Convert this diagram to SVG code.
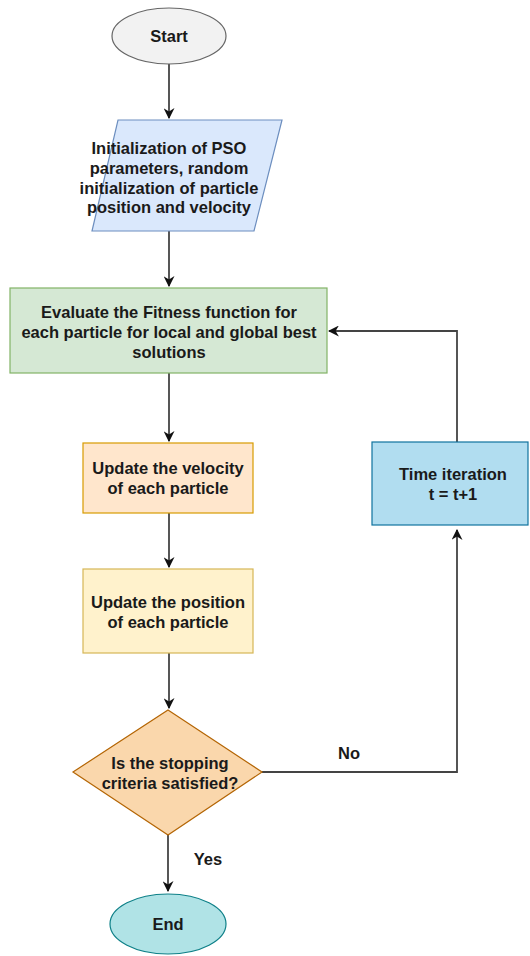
<svg xmlns="http://www.w3.org/2000/svg" width="530" height="956" viewBox="0 0 530 956">
<defs>
<marker id="arr" viewBox="0 0 10 10" refX="9" refY="5" markerWidth="11" markerHeight="11" markerUnits="userSpaceOnUse" orient="auto">
<path d="M0,0 L10,5 L0,10 L3,5 Z" fill="#111"/>
</marker>
<style>
text{font-family:"Liberation Sans",Arial,sans-serif;font-size:16.5px;font-weight:bold;fill:#1a1a1a;text-anchor:middle;}
.c{fill:none;stroke:#444;stroke-width:1.8;}
</style>
</defs>
<rect width="530" height="956" fill="#fff"/>
<g id="connectors">
<path class="c" d="M169,63 L169,118" marker-end="url(#arr)"/>
<path class="c" d="M169,231 L169,286" marker-end="url(#arr)"/>
<path class="c" d="M169,373 L169,441" marker-end="url(#arr)"/>
<path class="c" d="M169,513 L169,567" marker-end="url(#arr)"/>
<path class="c" d="M169,653 L169,708" marker-end="url(#arr)"/>
<path class="c" d="M168,835 L168,891" marker-end="url(#arr)"/>
<path class="c" d="M262,772 L457,772 L457,530" marker-end="url(#arr)"/>
<path class="c" d="M457,442 L457,331 L329,331" marker-end="url(#arr)"/>
<text x="349" y="759">No</text>
<text x="208" y="865">Yes</text>
</g>
<g id="start">
<ellipse cx="169" cy="36" rx="57" ry="28" fill="#f2f2f2" stroke="#666" stroke-width="1.2"/>
<text x="169" y="42">Start</text>
</g>
<g id="init">
<polygon points="118,120 282,120 254,231 92,231" fill="#dae8fc" stroke="#6c8ebf" stroke-width="1.2"/>
<text x="169" y="154">Initialization of PSO</text>
<text x="169" y="174">parameters, random</text>
<text x="169" y="194">initialization of particle</text>
<text x="169" y="213">position and velocity</text>
</g>
<g id="evaluate">
<rect x="10" y="288" width="317" height="85" fill="#d5e8d4" stroke="#82b366" stroke-width="1.2"/>
<text x="169" y="318">Evaluate the Fitness function for</text>
<text x="169" y="338">each particle for local and global best</text>
<text x="169" y="358">solutions</text>
</g>
<g id="velocity">
<rect x="83" y="443" width="170" height="70" fill="#ffe6cc" stroke="#d79b00" stroke-width="1.2"/>
<text x="168" y="474">Update the velocity</text>
<text x="168" y="494">of each particle</text>
</g>
<g id="position">
<rect x="83" y="569" width="170" height="84" fill="#fff2cc" stroke="#d6b656" stroke-width="1.2"/>
<text x="168" y="608">Update the position</text>
<text x="168" y="628">of each particle</text>
</g>
<g id="decision">
<polygon points="168,710 262,772 168,835 73,772" fill="#fad7ac" stroke="#b46504" stroke-width="1.2"/>
<text x="170" y="769">Is the stopping</text>
<text x="170" y="789">criteria satisfied?</text>
</g>
<g id="time">
<rect x="372" y="442" width="156" height="83" fill="#b1ddf0" stroke="#10739e" stroke-width="1.2"/>
<text x="453" y="480">Time iteration</text>
<text x="453" y="500">t = t+1</text>
</g>
<g id="end">
<ellipse cx="168" cy="924" rx="58" ry="30" fill="#b0e3e6" stroke="#0e8088" stroke-width="1.2"/>
<text x="168" y="930">End</text>
</g>
</svg>
